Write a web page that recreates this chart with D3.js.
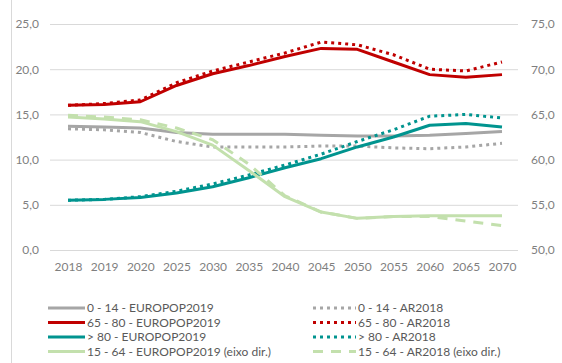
<!DOCTYPE html>
<html><head><meta charset="utf-8">
<script src="https://cdn.jsdelivr.net/npm/d3@7"></script>
<style>body{margin:0;background:#fff}svg{display:block}text{font-family:Lato,"Open Sans",sans-serif}</style>
</head><body><svg id="c" width="562" height="363"></svg>
<script>
const years = ["2018","2019","2020","2025","2030","2035","2040","2045","2050","2055","2060","2065","2070"];
const leftTicks = [0,5,10,15,20,25];
const rightTicks = [50,55,60,65,70,75];
const young_EP = [13.7,13.6,13.5,13.0,12.8,12.8,12.8,12.7,12.6,12.6,12.7,12.9,13.1];
const young_AR = [13.4,13.3,13.0,12.0,11.4,11.4,11.4,11.5,11.5,11.3,11.2,11.4,11.8];
const old_EP = [16.0,16.1,16.4,18.2,19.5,20.4,21.4,22.3,22.2,20.8,19.4,19.1,19.4];
const old_AR = [16.0,16.2,16.6,18.5,19.8,20.8,21.8,23.0,22.7,21.6,20.0,19.8,20.8];
const o80_EP = [5.5,5.6,5.8,6.3,7.0,8.0,9.1,10.1,11.4,12.5,13.8,14.0,13.6];
const o80_AR = [5.5,5.6,5.9,6.5,7.3,8.3,9.4,10.6,12.0,13.3,14.8,15.0,14.6];
const work_EP = [64.7,64.5,64.2,63.1,61.6,58.8,55.9,54.2,53.5,53.7,53.8,53.8,53.8];
const work_AR = [64.9,64.7,64.4,63.5,62.2,59.5,56.0,54.2,53.5,53.7,53.7,53.2,52.7];

const series = [
  {name:"0 - 14 - EUROPOP2019", values:young_EP, color:"#a6a6a6", dash:null, axis:"l", w:3},
  {name:"0 - 14 - AR2018", values:young_AR, color:"#a6a6a6", dash:"3,4", axis:"l", w:3},
  {name:"65 - 80 - EUROPOP2019", values:old_EP, color:"#c00000", dash:null, axis:"l", w:3},
  {name:"65 - 80 - AR2018", values:old_AR, color:"#c00000", dash:"3,4", axis:"l", w:3},
  {name:"> 80 - EUROPOP2019", values:o80_EP, color:"#00948f", dash:null, axis:"l", w:3},
  {name:"> 80 - AR2018", values:o80_AR, color:"#00948f", dash:"3,4", axis:"l", w:3},
  {name:"15 - 64 - EUROPOP2019 (eixo dir.)", values:work_EP, color:"#c3e0ad", dash:null, axis:"r", w:3},
  {name:"15 - 64 - AR2018 (eixo dir.)", values:work_AR, color:"#c3e0ad", dash:"10,8", axis:"r", w:3}
];

const svg = d3.select("#c");
const x = d3.scalePoint().domain(years).range([68,502]);
const yL = d3.scaleLinear().domain([0,25]).range([250,24]);
const yR = d3.scaleLinear().domain([50,75]).range([250,24]);

// left border
svg.append("line").attr("x1",11.5).attr("x2",11.5).attr("y1",0).attr("y2",363)
  .attr("stroke","#d9d9d9").attr("stroke-width",1);

// gridlines
const gAxL = svg.append("g").attr("transform","translate(50,0)")
  .call(d3.axisLeft(yL).tickValues(leftTicks).tickSize(-468).tickPadding(11)
    .tickFormat(d=>d3.format(".1f")(d).replace(".",",")));
gAxL.select(".domain").remove();
gAxL.selectAll(".tick line").attr("stroke","#d9d9d9");
gAxL.selectAll("text").attr("fill","#7f7f7f").style("font-size","12px");

const gAxR = svg.append("g").attr("transform","translate(518,0)")
  .call(d3.axisRight(yR).tickValues(rightTicks).tickSize(0).tickPadding(13)
    .tickFormat(d=>d3.format(".1f")(d).replace(".",",")));
gAxR.select(".domain").remove();
gAxR.selectAll("text").attr("fill","#7f7f7f").style("font-size","12px");

const gX = svg.append("g").attr("transform","translate(0,250)")
  .call(d3.axisBottom(x).tickSize(0).tickPadding(12));
gX.select(".domain").remove();
gX.selectAll("text").attr("fill","#7f7f7f").style("font-size","12px");

// lines
series.forEach(s=>{
  const yS = s.axis==="l"?yL:yR;
  const line = d3.line().x((d,i)=>x(years[i])).y(d=>yS(d));
  svg.append("path").datum(s.values).attr("d",line)
    .attr("fill","none").attr("stroke",s.color).attr("stroke-width",s.w)
    .attr("stroke-dasharray",s.dash).attr("stroke-linejoin","round");
});

// legend
const leg = svg.append("g");
series.forEach((s,i)=>{
  const col = i%2, row = Math.floor(i/2);
  const lx = col===0?48:313, ly = 308 + row*14.5;
  const lw = col===0?37:43;
  leg.append("line").attr("x1",lx).attr("x2",lx+lw).attr("y1",ly).attr("y2",ly)
    .attr("stroke",s.color).attr("stroke-width",3).attr("stroke-dasharray",s.dash);
  leg.append("text").attr("x",lx+lw+2).attr("y",ly).attr("dy","0.35em")
    .attr("fill","#595959").style("font-size","12px").text(s.name);
});
</script></body></html>
